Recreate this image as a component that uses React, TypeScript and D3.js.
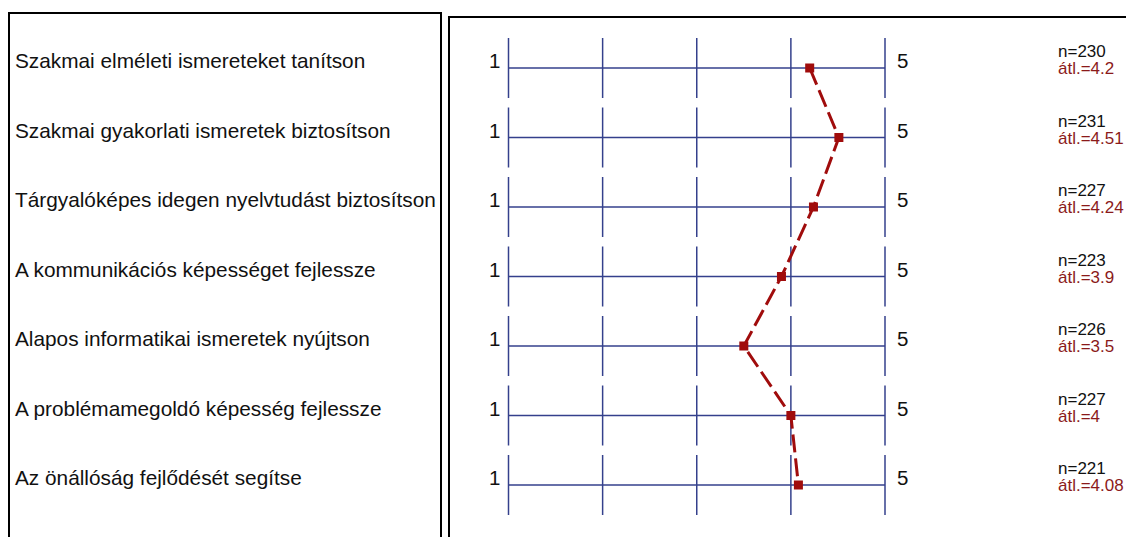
import React, { useEffect, useRef } from 'react';
import * as d3 from 'd3';

const items = [
  'Szakmai elméleti ismereteket tanítson',
  'Szakmai gyakorlati ismeretek biztosítson',
  'Tárgyalóképes idegen nyelvtudást biztosítson',
  'A kommunikációs képességet fejlessze',
  'Alapos informatikai ismeretek nyújtson',
  'A problémamegoldó képesség fejlessze',
  'Az önállóság fejlődését segítse'
];
const means = [4.2, 4.51, 4.24, 3.9, 3.5, 4, 4.08];
const counts = [230, 231, 227, 223, 226, 227, 221];
const meanLabels = ['4.2', '4.51', '4.24', '3.9', '3.5', '4', '4.08'];
const scaleTicks = [1, 2, 3, 4, 5];

const W = 1126;
const H = 537;

export default function App() {
  const ref = useRef<SVGSVGElement>(null);

  useEffect(() => {
    if (!ref.current) return;
    const svg = d3.select(ref.current);
    svg.selectAll('*').remove();

    const font = 'Arial, "Liberation Sans", sans-serif';
    const navy = '#34408c';
    const red = '#a00c0c';

    const x = d3.scaleLinear().domain([1, 5]).range([508.5, 885]);
    const y = d3.scaleLinear().domain([0, items.length - 1]).range([68, 485]);

    // frames
    svg.append('rect')
      .attr('x', 9).attr('y', 13).attr('width', 432).attr('height', 600)
      .attr('fill', 'none').attr('stroke', '#000').attr('stroke-width', 2);
    svg.append('rect')
      .attr('x', 449).attr('y', 17).attr('width', 800).attr('height', 600)
      .attr('fill', 'none').attr('stroke', '#000').attr('stroke-width', 2);

    // item labels
    svg.append('g')
      .selectAll('text')
      .data(items)
      .enter()
      .append('text')
      .attr('x', 15)
      .attr('y', (_, i) => y(i))
      .attr('font-family', font)
      .attr('font-size', 20.8)
      .attr('fill', '#111')
      .text(d => d);

    const rows = svg.append('g')
      .selectAll('g')
      .data(items)
      .enter()
      .append('g')
      .attr('transform', (_, i) => `translate(0,${y(i)})`);

    rows.append('line')
      .attr('x1', x(1)).attr('x2', x(5))
      .attr('stroke', navy).attr('stroke-width', 1.5);

    rows.selectAll('line.tick')
      .data(scaleTicks)
      .enter()
      .append('line')
      .attr('class', 'tick')
      .attr('x1', d => x(d)).attr('x2', d => x(d))
      .attr('y1', -30).attr('y2', 30)
      .attr('stroke', navy).attr('stroke-width', 1.5);

    rows.append('text')
      .attr('x', x(1) - 8)
      .attr('text-anchor', 'end')
      .attr('font-family', font)
      .attr('font-size', 20.5)
      .attr('fill', '#111')
      .text('1');

    rows.append('text')
      .attr('x', x(5) + 12)
      .attr('font-family', font)
      .attr('font-size', 20.5)
      .attr('fill', '#111')
      .text('5');

    rows.append('text')
      .attr('x', 1058)
      .attr('y', -11)
      .attr('font-family', font)
      .attr('font-size', 17)
      .attr('fill', '#111')
      .text((_, i) => `n=${counts[i]}`);

    rows.append('text')
      .attr('x', 1058)
      .attr('y', 6)
      .attr('font-family', font)
      .attr('font-size', 17)
      .attr('fill', '#8b1a1a')
      .text((_, i) => `átl.=${meanLabels[i]}`);

    // profile line
    const line = d3.line<number>()
      .x(d => x(d))
      .y((_, i) => y(i));

    svg.append('path')
      .datum(means)
      .attr('d', line)
      .attr('fill', 'none')
      .attr('stroke', red)
      .attr('stroke-width', 3)
      .attr('stroke-dasharray', '18,6');

    svg.append('g')
      .selectAll('rect')
      .data(means)
      .enter()
      .append('rect')
      .attr('x', d => x(d) - 4.5)
      .attr('y', (_, i) => y(i) - 4.5)
      .attr('width', 9)
      .attr('height', 9)
      .attr('fill', red);
  }, []);

  return (
    <div style={{ position: 'fixed', left: 0, top: 0, width: W, height: H, background: '#fff' }}>
      <svg ref={ref} width={W} height={H} style={{ display: 'block' }} />
    </div>
  );
}
